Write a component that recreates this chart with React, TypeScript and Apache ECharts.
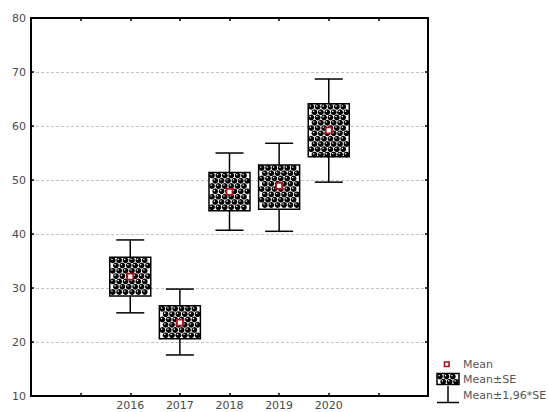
import React, { useEffect, useRef } from "react";
import * as echarts from "echarts";

const years = ["2016", "2017", "2018", "2019", "2020"];
const axisCategories = ["", "", "2016", "2017", "2018", "2019", "2020", "", ""];
const whiskerLow = [25.4, 17.6, 40.7, 40.5, 49.6];
const boxLow = [28.5, 20.6, 44.3, 44.6, 54.3];
const means = [32.1, 23.6, 47.8, 48.9, 59.2];
const boxHigh = [35.7, 26.7, 51.4, 52.8, 64.1];
const whiskerHigh = [38.9, 29.8, 55.0, 56.8, 68.7];

const FONT = "DejaVu Sans, Verdana, sans-serif";

function patternChildren(x0: number, y0: number, w: number, h: number) {
  const kids: any[] = [];
  kids.push({ type: "rect", shape: { x: x0, y: y0, width: w, height: h }, style: { fill: "#fff" } });
  const sx = 6.4, sy = 5.3, r = 2.9;
  let row = 0;
  for (let y = y0 + 3; y + r <= y0 + h + 1; y += sy, row++) {
    const off = row % 2 === 0 ? 3 : 6.2;
    for (let x = x0 + off; x + r <= x0 + w + 1; x += sx) {
      kids.push({ type: "circle", shape: { cx: x, cy: y, r }, style: { fill: "#000" } });
      kids.push({ type: "rect", shape: { x: x - 1.5, y: y - 1.5, width: 1.3, height: 1.3 }, style: { fill: "#fff" } });
    }
  }
  kids.push({ type: "rect", shape: { x: x0, y: y0, width: w, height: h }, style: { fill: "none", stroke: "#000", lineWidth: 1.5 } });
  return kids;
}

export default function App() {
  const ref = useRef<HTMLDivElement>(null);
  useEffect(() => {
    if (!ref.current) return;
    const chart = echarts.init(ref.current, undefined, { renderer: "svg" });
    const data = years.map((y, i) => [y, whiskerLow[i], boxLow[i], means[i], boxHigh[i], whiskerHigh[i]]);
    const option: any = {
      animation: false,
      grid: { left: 31, right: 120, top: 18, bottom: 16, containLabel: false, outerBoundsMode: "none" },
      xAxis: [
        {
          type: "category",
          data: axisCategories,
          boundaryGap: false,
          position: "bottom",
          axisLine: { lineStyle: { color: "#000", width: 2 } },
          axisTick: { inside: true, length: 3, lineStyle: { color: "#000", width: 1.5 } },
          axisLabel: { color: "#4a4a4a", fontSize: 11, lineHeight: 11, fontFamily: FONT, margin: 4, interval: 0 },
          splitLine: { show: false },
        },
        {
          type: "category",
          data: axisCategories,
          boundaryGap: false,
          position: "top",
          axisLine: { lineStyle: { color: "#000", width: 2 } },
          axisTick: { inside: true, length: 3, lineStyle: { color: "#000", width: 1.5 } },
          axisLabel: { show: false },
          splitLine: { show: false },
        },
      ],
      yAxis: [
        {
          type: "value",
          min: 10,
          max: 80,
          interval: 10,
          position: "left",
          axisLine: { show: true, lineStyle: { color: "#000", width: 2 } },
          axisTick: { show: true, inside: true, length: 3, lineStyle: { color: "#000", width: 1.5 } },
          axisLabel: { color: "#4a4a4a", fontSize: 11, fontFamily: FONT, margin: 5 },
          splitLine: { show: true, lineStyle: { color: "#c4c4c4", type: [3, 2], width: 1 } },
        },
        {
          type: "value",
          min: 10,
          max: 80,
          interval: 10,
          position: "right",
          axisLine: { show: true, lineStyle: { color: "#000", width: 2 } },
          axisTick: { show: true, inside: true, length: 3, lineStyle: { color: "#000", width: 1.5 } },
          axisLabel: { show: false },
          splitLine: { show: false },
        },
      ],
      series: [
        {
          type: "custom",
          xAxisIndex: 0,
          yAxisIndex: 0,
          data,
          encode: { x: 0, y: [1, 2, 3, 4, 5] },
          renderItem: (params: any, api: any) => {
            const xi = api.value(0);
            const cx = api.coord([xi, api.value(3)])[0];
            const yWl = api.coord([xi, api.value(1)])[1];
            const yBl = api.coord([xi, api.value(2)])[1];
            const yM = api.coord([xi, api.value(3)])[1];
            const yBh = api.coord([xi, api.value(4)])[1];
            const yWh = api.coord([xi, api.value(5)])[1];
            const bw = 41, cw = 28;
            const children: any[] = [
              { type: "line", shape: { x1: cx, y1: yWh, x2: cx, y2: yBh }, style: { stroke: "#000", lineWidth: 1.5 } },
              { type: "line", shape: { x1: cx, y1: yBl, x2: cx, y2: yWl }, style: { stroke: "#000", lineWidth: 1.5 } },
              { type: "line", shape: { x1: cx - cw / 2, y1: yWh, x2: cx + cw / 2, y2: yWh }, style: { stroke: "#000", lineWidth: 1.5 } },
              { type: "line", shape: { x1: cx - cw / 2, y1: yWl, x2: cx + cw / 2, y2: yWl }, style: { stroke: "#000", lineWidth: 1.5 } },
              ...patternChildren(cx - bw / 2, yBh, bw, yBl - yBh),
              { type: "rect", shape: { x: cx - 3, y: yM - 3, width: 6, height: 6 }, style: { fill: "#fff", stroke: "#b01018", lineWidth: 1.8 } },
            ];
            return { type: "group", children };
          },
        },
      ],
      graphic: [
        { type: "rect", shape: { x: 444.5, y: 362, width: 4.5, height: 4.5 }, style: { fill: "#fff", stroke: "#b01018", lineWidth: 1.6 } },
        { type: "text", x: 463, y: 364, style: { text: "Mean", fill: "#555", fontSize: 11, fontFamily: FONT, verticalAlign: "middle" } },
        { type: "group", children: patternChildren(437, 373.5, 22, 11) },
        { type: "text", x: 463, y: 379, style: { text: "Mean±SE", fill: "#555", fontSize: 11, fontFamily: FONT, verticalAlign: "middle" } },
        { type: "line", shape: { x1: 448, y1: 386, x2: 448, y2: 402.5 }, style: { stroke: "#000", lineWidth: 1.5 } },
        { type: "line", shape: { x1: 437, y1: 402.5, x2: 459, y2: 402.5 }, style: { stroke: "#000", lineWidth: 1.5 } },
        { type: "text", x: 463, y: 395, style: { text: "Mean±1,96*SE", fill: "#555", fontSize: 11, fontFamily: FONT, verticalAlign: "middle" } },
      ],
    };
    chart.setOption(option);
    return () => chart.dispose();
  }, []);
  return <div ref={ref} style={{ width: 548, height: 412, position: "absolute", left: 0, top: 0, background: "#fff" }} />;
}
